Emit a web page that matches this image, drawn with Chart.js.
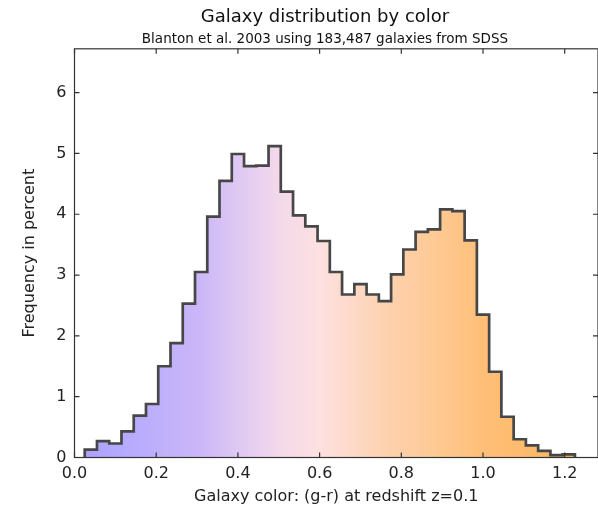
<!DOCTYPE html>
<html><head><meta charset="utf-8">
<script src="https://cdn.jsdelivr.net/npm/chart.js@4/dist/chart.umd.min.js"></script>
<style>html,body{margin:0;padding:0;background:#fff;overflow:hidden}canvas{display:block}</style>
</head><body>
<canvas id="c" width="598" height="510"></canvas>
<script>
// ---- data ----
const binEdges = [0.025,0.055,0.085,0.115,0.145,0.175,0.205,0.235,0.265,0.295,
  0.325,0.355,0.385,0.415,0.445,0.475,0.505,0.535,0.565,0.595,
  0.625,0.655,0.685,0.715,0.745,0.775,0.805,0.835,0.865,0.895,
  0.925,0.955,0.985,1.015,1.045,1.075,1.105,1.135,1.165,1.195,1.225];
const frequencies = [0.13,0.27,0.23,0.43,0.69,0.88,1.50,1.88,2.53,3.05,
  3.96,4.55,4.99,4.79,4.80,5.12,4.37,3.98,3.80,3.56,
  3.05,2.68,2.85,2.68,2.57,3.01,3.42,3.71,3.75,4.08,
  4.05,3.57,2.35,1.41,0.67,0.30,0.20,0.11,0.04,0.05];
const xTicks = [0.0,0.2,0.4,0.6,0.8,1.0,1.2];
const yTicks = [0,1,2,3,4,5,6];
const titleText = 'Galaxy distribution by color';
const subtitleText = 'Blanton et al. 2003 using 183,487 galaxies from SDSS';
const xTitle = 'Galaxy color: (g-r) at redshift z=0.1';
const yTitle = 'Frequency in percent';

// ---- build step outline: (left edge of bin i, value of bin i) ----
const points = [{x: binEdges[0], y: 0}];
frequencies.forEach((v, i) => points.push({x: binEdges[i], y: v}));
points.push({x: binEdges[binEdges.length - 1], y: frequencies[frequencies.length - 1]});
points.push({x: binEdges[binEdges.length - 1], y: 0});

const FONT = "'DejaVu Sans', sans-serif";
const PAD_LEFT = 52;
const AXIS_LEFT = 74.5;

function fillGradient(ctx) {
  const chart = ctx.chart;
  if (!chart.chartArea) return 'rgba(0,0,0,0)';
  const xs = chart.scales.x;
  const a = xs.getPixelForValue(0), b = xs.getPixelForValue(1.2);
  const g = chart.ctx.createLinearGradient(a, 0, b, 0);
  g.addColorStop(0.0, '#a99eff');
  g.addColorStop(0.08, '#b3a8ff');
  g.addColorStop(0.25, '#cab6f8');
  g.addColorStop(0.34, '#e0caf3');
  g.addColorStop(0.42, '#f4d9ea');
  g.addColorStop(0.50, '#fde0e0');
  g.addColorStop(0.62, '#fdd3b4');
  g.addColorStop(0.75, '#fec890');
  g.addColorStop(0.84, '#ffbe76');
  g.addColorStop(1.0, '#f8b862');
  return g;
}

const framePlugin = {
  id: 'frame',
  afterDraw(chart) {
    const {ctx, chartArea: ca, scales} = chart;
    ctx.save();
    ctx.strokeStyle = '#333';
    ctx.lineWidth = 1.2;
    ctx.strokeRect(ca.left, ca.top, ca.right - ca.left, ca.bottom - ca.top);
    const L = 5;
    ctx.beginPath();
    xTicks.forEach(v => {
      const px = scales.x.getPixelForValue(v);
      ctx.moveTo(px, ca.bottom); ctx.lineTo(px, ca.bottom - L);
      ctx.moveTo(px, ca.top); ctx.lineTo(px, ca.top + L);
    });
    yTicks.forEach(v => {
      const py = scales.y.getPixelForValue(v);
      ctx.moveTo(ca.left, py); ctx.lineTo(ca.left + L, py);
      ctx.moveTo(ca.right, py); ctx.lineTo(ca.right - L, py);
    });
    ctx.stroke();
    ctx.restore();
  }
};

new Chart(document.getElementById('c'), {
  type: 'line',
  data: {
    datasets: [{
      data: points,
      stepped: 'before',
      borderColor: '#474747',
      borderWidth: 2.7,
      pointRadius: 0,
      fill: 'origin',
      backgroundColor: fillGradient
    }]
  },
  options: {
    responsive: false,
    animation: false,
    layout: {padding: {left: PAD_LEFT, right: 0, top: 0, bottom: 0}},
    plugins: {
      legend: {display: false},
      tooltip: {enabled: false},
      title: {display: true, text: titleText, color: '#111',
        font: {family: FONT, size: 18, weight: 'normal'}, padding: {top: 7, bottom: 3}},
      subtitle: {display: true, text: subtitleText, color: '#111',
        font: {family: FONT, size: 13.5, weight: 'normal'}, padding: {top: 0, bottom: 1}}
    },
    scales: {
      x: {
        type: 'linear', min: 0, max: 1.2815,
        grid: {display: false, drawTicks: false},
        border: {display: false},
        ticks: {color: '#222', font: {family: FONT, size: 16}, padding: 7,
          callback: v => Number(v).toFixed(1), maxRotation: 0, autoSkip: false},
        afterBuildTicks: s => { s.ticks = xTicks.map(v => ({value: v})); },
        afterFit: s => { s.height = 52.5; },
        title: {display: true, text: xTitle, color: '#222',
          font: {family: FONT, size: 16}, padding: {top: 0, bottom: 3.4}}
      },
      y: {
        type: 'linear', min: 0, max: 6.72,
        grid: {display: false, drawTicks: false},
        border: {display: false},
        ticks: {color: '#222', font: {family: FONT, size: 16}, padding: 8,
          callback: v => String(v)},
        afterBuildTicks: s => { s.ticks = yTicks.map(v => ({value: v})); },
        afterFit: s => { s.width = AXIS_LEFT - PAD_LEFT; },
        title: {display: true, text: yTitle, color: '#222',
          font: {family: FONT, size: 16}, padding: {top: -31.6, bottom: 0}}
      }
    }
  },
  plugins: [framePlugin]
});
</script>
</body></html>
